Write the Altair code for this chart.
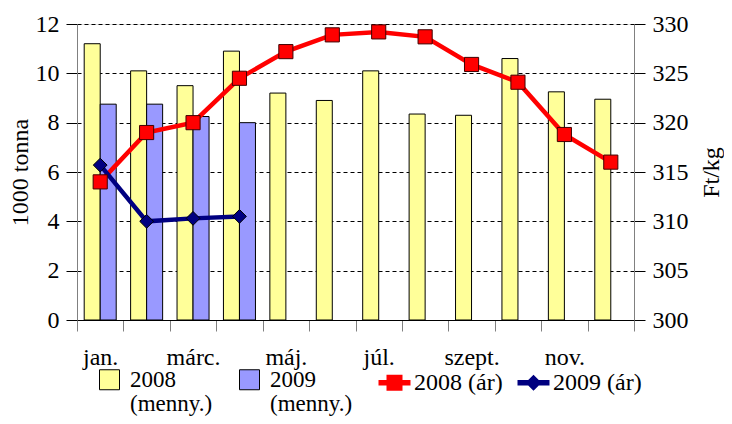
import json
import altair as alt
import pandas as pd

months = ["jan.", "febr.", "márc.", "ápr.", "máj.", "jún.", "júl.", "aug.", "szept.", "okt.", "nov.", "dec."]
shown_labels = ["jan.", "márc.", "máj.", "júl.", "szept.", "nov."]
qty_series = ["2008 (menny.)", "2009 (menny.)"]
price_series = ["2008 (ár)", "2009 (ár)"]
qty_2008 = [11.2, 10.1, 9.5, 10.9, 9.2, 8.9, 10.1, 8.35, 8.3, 10.6, 9.25, 8.95]
qty_2009 = [8.75, 8.75, 8.25, 8.0]
price_2008 = [314.0, 319.0, 320.0, 324.5, 327.2, 328.9, 329.2, 328.7, 325.9, 324.1, 318.8, 316.0]
price_2009 = [315.7, 310.0, 310.3, 310.5]
left_ticks = [0, 2, 4, 6, 8, 10, 12]
right_ticks = [300, 305, 310, 315, 320, 325, 330]

qty_df = pd.DataFrame(
    [{"month": m, "series": qty_series[0], "value": v} for m, v in zip(months, qty_2008)]
    + [{"month": m, "series": qty_series[1], "value": v} for m, v in zip(months, qty_2009)]
)
price_df = pd.DataFrame(
    [{"month": m, "series": price_series[0], "price": v} for m, v in zip(months, price_2008)]
    + [{"month": m, "series": price_series[1], "price": v} for m, v in zip(months, price_2009)]
)

FONT = "Liberation Serif"
FS = 24
qty_colors = ["#FFFF99", "#9999FF"]
price_colors = ["#FF0000", "#000080"]

label_expr = "indexof(%s, datum.value) >= 0 ? datum.label : ''" % json.dumps(shown_labels, ensure_ascii=False)

x_enc = alt.X(
    "month:N", sort=months,
    scale=alt.Scale(domain=months, paddingInner=0, paddingOuter=0),
    axis=alt.Axis(title=None, labelAngle=0, labelExpr=label_expr, tickBand="extent",
                  tickSize=11, tickColor="#808080", domainColor="black", labelPadding=14,
                  labelFont=FONT, labelFontSize=FS, labelColor="black", grid=False),
)
x_plain = alt.X("month:N", sort=months)

y_left = alt.Y(
    "value:Q", scale=alt.Scale(domain=[0, 12]),
    axis=alt.Axis(values=left_ticks, title="1000 tonna", grid=True, gridColor="black",
                  gridDash=[4, 3], gridWidth=1, tickSize=11, tickColor="black",
                  domainColor="#808080", labelPadding=7, labelFont=FONT, labelFontSize=FS,
                  labelColor="black", titleFont=FONT, titleFontSize=FS, titleFontWeight="normal",
                  titleColor="black", titlePadding=3),
)

y_right_axis = alt.Axis(values=right_ticks, orient="right", title="Ft/kg", titleAngle=270, grid=False,
                        tickSize=11, tickColor="black", domainColor="#808080", labelPadding=7,
                        labelFont=FONT, labelFontSize=FS, labelColor="black", titleFont=FONT,
                        titleFontSize=FS, titleFontWeight="normal", titleColor="black",
                        titleX=77, titleY=148, titleAlign="center", titleBaseline="middle")
y_right = alt.Y("price:Q", scale=alt.Scale(domain=[300, 330]), axis=y_right_axis)
y_right_hidden = alt.Y("price:Q", scale=alt.Scale(domain=[300, 330]), axis=None)

bars = alt.Chart(qty_df).mark_bar(stroke="black", strokeWidth=1).encode(
    x=x_enc,
    xOffset=alt.XOffset("series:N", scale=alt.Scale(domain=qty_series, paddingInner=0, paddingOuter=0.45)),
    y=y_left,
    color=alt.Color("series:N", scale=alt.Scale(domain=qty_series, range=qty_colors),
                    legend=alt.Legend(title=None, orient="none", legendX=21, legendY=344,
                                      direction="horizontal", symbolType="square", symbolSize=400,
                                      symbolStrokeColor="black", symbolStrokeWidth=1, symbolOpacity=1,
                                      labelFont=FONT, labelFontSize=23, labelColor="black",
                                      labelOffset=9, labelLimit=300, columnPadding=24,
                                      labelExpr="split(datum.label, ' ')")),
)

line08 = alt.Chart(price_df).transform_filter(alt.datum.series == price_series[0]).mark_line(
    strokeWidth=4.5, color=price_colors[0]
).encode(x=x_plain, y=y_right)

line09 = alt.Chart(price_df).transform_filter(alt.datum.series == price_series[1]).mark_line(
    strokeWidth=4.5, color=price_colors[1]
).encode(x=x_plain, y=y_right_hidden)

pts08 = alt.Chart(price_df).transform_filter(alt.datum.series == price_series[0]).mark_point(
    shape="square", filled=True, fill=price_colors[0], stroke="#400000", strokeWidth=1, size=200, opacity=1
).encode(x=x_plain, y=y_right_hidden)

pts09 = alt.Chart(price_df).transform_filter(alt.datum.series == price_series[1]).mark_point(
    shape="diamond", filled=True, fill=price_colors[1], stroke="black", strokeWidth=1, size=190, opacity=1
).encode(x=x_plain, y=y_right_hidden)

sq_path = "M-1,-0.17L-0.5,-0.17L-0.5,-0.5L0.5,-0.5L0.5,-0.17L1,-0.17L1,0.17L0.5,0.17L0.5,0.5L-0.5,0.5L-0.5,0.17L-1,0.17Z"
di_path = "M-1,-0.17L-0.33,-0.17L0,-0.5L0.33,-0.17L1,-0.17L1,0.17L0.33,0.17L0,0.5L-0.33,0.17L-1,0.17Z"

price_legend = alt.Legend(title=None, orient="none", legendX=301, legendY=342, direction="horizontal",
                          symbolSize=1024, symbolStrokeColor="black", symbolStrokeWidth=0.8, symbolOpacity=1,
                          labelFont=FONT, labelFontSize=FS, labelColor="black", labelOffset=3,
                          labelLimit=300, columnPadding=12)

legend_layer = alt.Chart(price_df).mark_point(filled=True, opacity=0).encode(
    x=x_plain,
    y=y_right_hidden,
    fill=alt.Fill("series:N", scale=alt.Scale(domain=price_series, range=price_colors), legend=price_legend),
    shape=alt.Shape("series:N", scale=alt.Scale(domain=price_series, range=[sq_path, di_path]), legend=price_legend),
)

chart = alt.layer(bars, line08, line09, pts08, pts09, legend_layer).resolve_scale(y="independent").properties(
    width=557, height=296,
    autosize=alt.AutoSizeParams(type="none"),
    padding={"left": 69, "top": 16, "right": 90, "bottom": 96},
).configure_view(stroke=None).configure(
    style={"guide-label": {"lineHeight": 24}}
)

chart.save("out.html", embed_options={"renderer": "svg", "actions": False})
